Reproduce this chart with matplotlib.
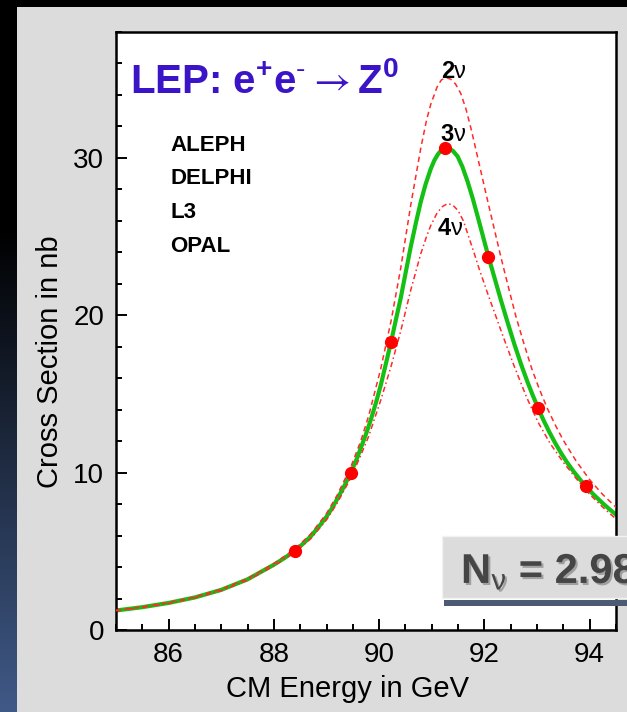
import numpy as np
import matplotlib
matplotlib.use('Agg')
import matplotlib.pyplot as plt
import matplotlib.patheffects as pe
from matplotlib.patches import Rectangle
from matplotlib.ticker import MultipleLocator

# fitted line shapes (E in GeV, sigma in nb)
energy_3nu = [85.0, 85.5, 86.0, 86.5, 87.0, 87.5, 88.0, 88.2, 88.4, 88.55, 88.7, 88.85,
              89.0, 89.1, 89.2, 89.33, 89.46, 89.56, 89.65, 89.75, 89.85, 89.94, 90.03,
              90.13, 90.23, 90.32, 90.41, 90.5, 90.6, 90.7, 90.79, 90.88, 90.98, 91.05,
              91.12, 91.18, 91.25, 91.32, 91.4, 91.49, 91.58, 91.68, 91.78, 91.87, 91.97,
              92.07, 92.19, 92.31, 92.44, 92.57, 92.7, 92.82, 92.92, 93.02, 93.12, 93.23,
              93.35, 93.46, 93.58, 93.7, 93.82, 93.93, 94.07, 94.22, 94.36, 94.5]
xsec_3nu = [1.24, 1.45, 1.72, 2.07, 2.55, 3.22, 4.15, 4.57, 5.04, 5.47, 5.95, 6.55,
            7.2, 7.72, 8.3, 9.1, 10.0, 10.75, 11.55, 12.45, 13.45, 14.45, 15.55,
            16.95, 18.37, 19.75, 21.1, 22.65, 24.35, 25.9, 27.2, 28.3, 29.3, 29.85,
            30.25, 30.48, 30.6, 30.6, 30.45, 30.1, 29.45, 28.5, 27.4, 26.3, 25.05,
            23.8, 22.4, 21.0, 19.55, 18.15, 16.85, 15.75, 14.9, 14.1, 13.35, 12.6,
            11.85, 11.22, 10.6, 10.05, 9.55, 9.12, 8.62, 8.14, 7.72, 7.33]

energy_2nu = [85.0, 85.5, 86.0, 86.5, 87.0, 87.5, 88.0, 88.4, 88.7, 89.0, 89.2, 89.46,
              89.65, 89.8, 90.03, 90.23, 90.41, 90.6, 90.79, 90.9, 90.98, 91.1, 91.18,
              91.27, 91.36, 91.45, 91.55, 91.65, 91.75, 91.86, 91.97, 92.08, 92.2, 92.32,
              92.47, 92.6, 92.75, 92.9, 93.05, 93.2, 93.35, 93.5, 93.75, 94.0, 94.25, 94.5]
xsec_2nu = [1.26, 1.47, 1.74, 2.10, 2.59, 3.27, 4.22, 5.15, 6.1, 7.4, 8.55, 10.35,
            12.0, 13.6, 16.6, 19.7, 23.0, 27.0, 30.6, 32.4, 33.4, 34.5, 34.95,
            35.1, 35.0, 34.7, 34.1, 33.1, 31.8, 30.2, 28.6, 27.0, 25.3, 23.6,
            21.6, 19.9, 18.2, 16.6, 15.25, 14.05, 13.0, 12.05, 10.7, 9.55, 8.6, 7.8]

energy_4nu = [85.0, 85.5, 86.0, 86.5, 87.0, 87.5, 88.0, 88.4, 88.7, 89.0, 89.2, 89.46,
              89.65, 89.8, 90.03, 90.23, 90.41, 90.6, 90.79, 90.9, 90.98, 91.1, 91.2,
              91.3, 91.4, 91.5, 91.6, 91.7, 91.8, 91.9, 92.07, 92.2, 92.35, 92.55, 92.8,
              93.02, 93.25, 93.5, 93.75, 94.0, 94.25, 94.5]
xsec_4nu = [1.22, 1.43, 1.69, 2.04, 2.5, 3.16, 4.07, 4.95, 5.8, 7.0, 8.05, 9.65,
            11.1, 12.3, 14.6, 16.8, 19.0, 21.6, 23.9, 25.0, 25.7, 26.5, 26.9,
            27.1, 27.0, 26.65, 26.0, 25.0, 24.0, 22.95, 21.3, 20.1, 18.7, 16.9, 14.8,
            13.2, 11.85, 10.65, 9.6, 8.62, 7.8, 7.05]

# measured points
data_energy = [88.40, 89.46, 90.23, 91.25, 92.07, 93.02, 93.93]
data_xsec = [5.04, 10.0, 18.3, 30.6, 23.7, 14.1, 9.15]

experiments = ['ALEPH', 'DELPHI', 'L3', 'OPAL']
nu_digits = ['2', '3', '4']
title = (r'LEP: $\mathbf{e}^{\mathbf{+}}\mathbf{e}^{\mathbf{\text{-}}}'
         r'\mathsf{\rightarrow}\mathbf{Z}^{\mathbf{0}}$')
result_text = r'N$_{\nu}$ = 2.98'

W, H = 627, 712


def fx(px):
    return px / W


def fy(py):
    return 1 - py / H


plt.rcParams['font.family'] = ['Liberation Sans', 'DejaVu Sans']
plt.rcParams['mathtext.fontset'] = 'custom'
plt.rcParams['mathtext.rm'] = 'Liberation Sans'
plt.rcParams['mathtext.it'] = 'Liberation Sans'
plt.rcParams['mathtext.bf'] = 'Liberation Sans:bold'
plt.rcParams['mathtext.sf'] = 'STIXGeneral'

fig = plt.figure(figsize=(6.27, 7.12), dpi=100, facecolor='#dcdcdc')

# black strip on top, dark-to-blue strip on the left
fig.add_artist(Rectangle((0, fy(7)), 1, 7 / H, transform=fig.transFigure,
                         facecolor='black', edgecolor='none', zorder=-5))
gax = fig.add_axes([0, 0, fx(17), 1])
t = np.linspace(0, 1, 300)
k = np.clip((t - 0.32) / 0.68, 0, 1)
grad = k[:, None] * np.array([0.25, 0.35, 0.53])
gax.imshow(grad[:, None, :], aspect='auto')
gax.axis('off')

ax = fig.add_axes([fx(116), fy(630), (616 - 116) / W, (630 - 32) / H])
ax.set_facecolor('white')

ax.plot(energy_3nu, xsec_3nu, color='#14c014', lw=3, zorder=2)
ax.plot(energy_2nu, xsec_2nu, color='#ff2a2a', lw=1.1, dashes=(3.5, 2.5), zorder=3)
ax.plot(energy_4nu, xsec_4nu, color='#ff2a2a', lw=1.1, dashes=(3.5, 2, 1, 2), zorder=3)
ax.plot(data_energy, data_xsec, 'o', color='red', ms=8.5, zorder=4)

ax.set_xlim(85, 94.5)
ax.set_ylim(0, 38)
ax.set_xticks([86, 88, 90, 92, 94])
ax.xaxis.set_minor_locator(MultipleLocator(0.5))
ax.yaxis.set_major_locator(MultipleLocator(10))
ax.yaxis.set_minor_locator(MultipleLocator(2))
ax.tick_params(which='both', direction='in', top=False, right=False, width=1.4,
               labelsize=20)
ax.tick_params(which='major', length=8)
ax.tick_params(which='minor', length=4.5)
ax.tick_params(axis='x', pad=8.5)
ax.tick_params(axis='y', pad=8.5)
for s in ax.spines.values():
    s.set_linewidth(1.8)

ax.set_xlabel('CM Energy in GeV', fontsize=21)
ax.set_ylabel('Cross Section in nb', fontsize=21)
ax.xaxis.set_label_coords(0.464, -0.075)
ax.yaxis.set_label_coords(-0.105, 0.448)

ax.text(0.028, 0.898, title, transform=ax.transAxes, fontweight='bold',
        fontsize=29, color='#3c14c8', va='baseline')

for i, name in enumerate(experiments):
    ax.text(0.108, 0.811 - i * 0.0565, name, transform=ax.transAxes,
            fontsize=16, fontweight='bold', va='center')

nu_pos = [(91.42, 35.1), (91.42, 31.1), (91.36, 25.1)]
for d, (xe, ys) in zip(nu_digits, nu_pos):
    ax.text(xe, ys, d, fontsize=17, fontweight='bold', ha='right', va='baseline')
    ax.text(xe, ys, '\u03bd', fontsize=17, ha='left', va='baseline')

# result box
fig.add_artist(Rectangle((fx(442), fy(598)), fx(627 - 442) + 0.01, 62 / H,
                         transform=fig.transFigure, facecolor='#dcdcdc',
                         edgecolor='#f2f2f2', lw=1, zorder=5))
fig.add_artist(Rectangle((fx(444), fy(606)), fx(627 - 444) + 0.01, 6 / H,
                         transform=fig.transFigure, facecolor='#4c5a72',
                         edgecolor='none', zorder=5))
fig.text(fx(461), fy(583), result_text, fontsize=30, fontweight='bold',
         color='#454545', va='baseline', zorder=6,
         path_effects=[pe.SimplePatchShadow(offset=(1.5, -1.5), shadow_rgbFace='#9a9a9a', alpha=0.9),
                       pe.Normal()])

fig.savefig('out.png', dpi=100, facecolor=fig.get_facecolor())
